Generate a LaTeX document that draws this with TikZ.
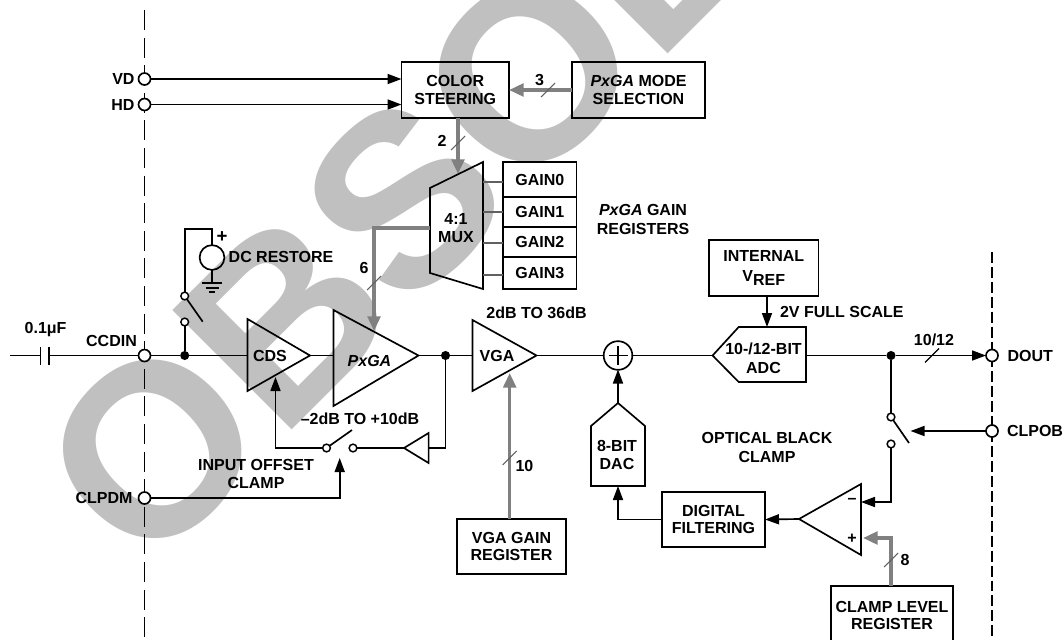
\documentclass[tikz,border=0pt]{standalone}
\usepackage{fontspec}
\setmainfont{Liberation Sans}
\usetikzlibrary{arrows.meta}
\definecolor{wmark}{HTML}{C0C0C0}
\definecolor{busgray}{HTML}{808080}
\definecolor{slashgray}{HTML}{606060}
\tikzset{
  wire/.style={line width=1.25pt,line join=miter},
  sig/.style={wire,-{Triangle[length=10.5pt,width=7.5pt]}},
  bus/.style={line width=2.6pt,color=busgray,-{Triangle[length=11pt,width=9.5pt]}},
  thinw/.style={line width=0.9pt,color=slashgray},
  slash/.style={line width=0.8pt,color=slashgray},
  bslash/.style={line width=0.9pt,color=black},
  dashL/.style={line width=1.25pt,dash pattern=on 15pt off 5.7pt},
  dashR/.style={line width=1.25pt,dash pattern=on 8.2pt off 3pt},
  blk/.style={draw,line width=1.25pt,fill=none},
  boxn/.style 2 args={draw,line width=1.25pt,rectangle,inner sep=0pt,outer sep=0pt,align=center,
     minimum width=#1*0.75pt,minimum height=#2*0.75pt},
  pin/.style={circle,draw,line width=1.25pt,fill=white,inner sep=0pt,outer sep=0pt,minimum size=9pt},
  contact/.style={circle,draw,line width=1.1pt,fill=white,inner sep=0pt,outer sep=0pt,minimum size=5.8pt},
  dot/.style={circle,fill=black,inner sep=0pt,outer sep=0pt,minimum size=6.8pt},
  txt/.style={inner sep=0pt,outer sep=0pt,align=center},
  every node/.style={font=\fontsize{12}{13.2}\selectfont\bfseries},
}
\begin{document}
\begin{tikzpicture}[x=0.75pt,y=-0.75pt]
\useasboundingbox (0,0) rectangle (1063,639);
\clip (0,0) rectangle (1063,639);
% watermark
\node[txt,anchor=base west,rotate=45,text=wmark,font=\fontsize{184}{184}\selectfont\bfseries] (wm) at (145.5,576.4) {OBSOLETE};
% boundary dashed lines
\coordinate (ltop) at (144.5,10); \coordinate (lbot) at (144.5,639);
\coordinate (rtop) at (992,252); \coordinate (rbot) at (992,639);
\draw[dashL] (ltop) -- (lbot);
\draw[dashR] (rtop) -- (rbot);
% boxes
\node[boxn={107.5}{56}] (cs) at (455.25,90) {COLOR\\STEERING};
\node[boxn={133}{56}] (mode) at (638.5,90) {\textit{PxGA} MODE\\SELECTION};
\node[boxn={73.5}{35}] (g0) at (539.75,179.5) {\raisebox{-2.5pt}{GAIN0}};
\node[boxn={73.5}{30}] (g1) at (539.75,212) {GAIN1};
\node[boxn={73.5}{30}] (g2) at (539.75,242) {GAIN2};
\node[boxn={73.5}{32}] (g3) at (539.75,273) {GAIN3};
\node[boxn={109.5}{56}] (vref) at (763.75,268) {INTERNAL\\[2pt]V\raisebox{-2.5pt}{REF}};
\node[boxn={109}{55}] (vgagain) at (511.5,546.5) {VGA GAIN\\REGISTER};
\node[boxn={103}{55}] (filt) at (713.5,519.5) {DIGITAL\\FILTERING};
\node[boxn={122}{59}] (clamp) at (892,615.5) {CLAMP LEVEL\\REGISTER};
% polygon blocks
\draw[blk] (430,188) coordinate (muxa) -- (483,162) coordinate (muxb) -- (483,289) coordinate (muxc) -- (430,273) coordinate (muxd) -- cycle;
\node[txt] (muxt) at (456,228) {4:1\\MUX};
\draw[blk] (247.5,319) coordinate (cdsa) -- (310,355.5) coordinate (cdso) -- (247.5,391) -- cycle;
\node[txt] (cdst) at (270,355.5) {CDS};
\draw[blk] (333.5,310) -- (418.5,355.5) coordinate (pxo) -- (333.5,406) -- cycle;
\node[txt,font=\fontsize{12}{13.2}\selectfont\bfseries\itshape] (pxt) at (369.5,361) {PxGA};
\draw[blk] (472.5,320) -- (536.5,355.5) coordinate (vgao) -- (472.5,391) -- cycle;
\node[txt] (vgat) at (497,355.5) {VGA};
\draw[blk] (428.6,433) -- (404,448) coordinate (bufo) -- (428.6,463) -- cycle;
\draw[blk] (712.6,355.5) coordinate (adci) -- (738.7,327) -- (806,327) -- (806,382) -- (738.7,382) -- cycle;
\node[txt] (adct) at (763.5,358) {10-/12-BIT\\[1pt]ADC};
\draw[blk] (591,486) -- (645,486) -- (645,426) -- (618,403) coordinate (daco) -- (591,426) -- cycle;
\node[txt] (dact) at (617,455) {8-BIT\\[1pt]DAC};
\draw[blk] (861,484) -- (799,519) coordinate (cmpo) -- (861,555) -- cycle;
\node[circle,draw,line width=1.25pt,inner sep=0pt,outer sep=0pt,minimum size=21.5pt] (sum) at (618,355.5) {};
\draw[wire] (sum.center) +(-9.5,0) -- +(9.5,0);
\draw[wire] (sum.center) +(0,-9.5) -- +(0,9.5);
% pins
\node[pin] (vd) at (144.5,79) {};
\node[pin] (hd) at (144.5,104.5) {};
\node[pin] (ccdin) at (144.5,355.5) {};
\node[pin] (clpdm) at (144.5,498) {};
\node[pin] (dout) at (992,355.5) {};
\node[pin] (clpob) at (992,431) {};
% input wires
\draw[sig] (vd) -- (vd -| cs.west);
\draw[sig] (hd) -- (hd -| cs.west);
\draw[bus] (mode.west) -- (cs.east);
\coordinate (csout) at (458,118); \coordinate (muxin) at (458,174);
\draw[bus] (csout) -- (muxin);
\foreach \a/\b in {g0/182,g1/212,g2/243,g3/275}{
  \draw[thinw] (483,\b) -- (\a.west |- 0,\b);
}
% 6-bit bus
\coordinate (mux6) at (430,228); \coordinate (px6c) at (374,228); \coordinate (px6) at (374,331);
\draw[bus] (mux6) -- (px6c) -- (px6);
% input chain
\coordinate (cin) at (10,355.5);
\coordinate (capa) at (40.5,355.5); \coordinate (capb) at (49,355.5);
\draw[wire] (cin) -- (capa);
\draw[wire] (40.5,347) -- (40.5,365);
\draw[wire] (49,347) -- (49,365);
\draw[wire] (capb) -- (ccdin);
\coordinate (cdsin) at (247.5,355.5);
\node[dot] (jdc) at (184.7,355.5) {};
\draw[wire] (ccdin) -- (jdc) -- (cdsin);
% DC restore
\node[circle,draw,line width=1.25pt,inner sep=0pt,outer sep=0pt,minimum size=18.6pt] (dcs) at (212,257.5) {};
\node[contact] (sw1a) at (184.7,296) {};
\node[contact] (sw1b) at (184.7,322) {};
\coordinate (sw1e) at (202.7,321.7);
\coordinate (dctop) at (212,229); \coordinate (dcl) at (184.7,229);
\draw[wire] (dcs.north) -- (dctop) -- (dcl) -- (sw1a);
\draw[wire] (sw1b) -- (jdc);
\draw[wire] (sw1a) -- (sw1e);
\coordinate (gnd) at (212,283);
\draw[wire] (dcs.south) -- (gnd);
\draw[wire] (202,283) -- (222,283);
\draw[wire] (205.5,288) -- (218.5,288);
\draw[wire] (209,292) -- (215,292);
% chain
\coordinate (pxin) at (333.5,355.5);
\draw[wire] (cdso) -- (pxin);
\node[dot] (jfb) at (445.5,355.5) {};
\coordinate (vgain) at (472.5,355.5);
\draw[wire] (pxo) -- (jfb) -- (vgain);
\draw[wire] (vgao) -- (sum.west);
\draw[wire] (sum.east) -- (adci);
\coordinate (adco) at (806,355.5);
\node[dot] (jout) at (891,355.5) {};
\draw[wire] (adco) -- (jout);
\draw[sig] (jout) -- (dout);
% vref
\coordinate (vrefo) at (767,296); \coordinate (adcv) at (767,327);
\draw[sig] (vrefo) -- (adcv);
% feedback / input offset clamp
\coordinate (fb) at (445.5,448); \coordinate (bufi) at (428.6,448);
\draw[wire] (jfb) -- (fb) -- (bufi);
\node[contact] (sw2r) at (353,448) {};
\node[contact] (sw2l) at (326.5,448) {};
\coordinate (sw2e) at (352,430);
\draw[wire] (bufo) -- (sw2r);
\draw[wire] (sw2l) -- (sw2e);
\coordinate (fbc) at (275.5,448); \coordinate (cdsfb) at (275.5,377);
\draw[sig] (sw2l) -- (fbc) -- (cdsfb);
\coordinate (cl1) at (339.7,498); \coordinate (cl2) at (339.7,458);
\draw[sig] (clpdm) -- (cl1) -- (cl2);
% VGA gain
\coordinate (vgb) at (509.7,519); \coordinate (vgt) at (509.7,373);
\draw[bus] (vgb) -- (vgt);
% DAC
\coordinate (sumb) at (618,369.5);
\draw[sig] (daco) -- (sumb);
\coordinate (fc) at (618,519.5); \coordinate (dacb) at (618,486);
\draw[sig] (filt.west) -- (fc) -- (dacb);
\draw[sig] (cmpo) -- (filt.east);
% black clamp
\node[contact] (sw3a) at (891,417) {};
\node[contact] (sw3b) at (891,444) {};
\coordinate (sw3e) at (909,443);
\draw[wire] (jout) -- (sw3a);
\draw[wire] (sw3a) -- (sw3e);
\coordinate (cmc) at (891,502); \coordinate (cmm) at (861,502);
\draw[sig] (sw3b) -- (cmc) -- (cmm);
\coordinate (obt) at (910.5,431);
\draw[sig] (clpob) -- (obt);
\coordinate (clt) at (891,586); \coordinate (clc) at (891,538); \coordinate (clp) at (863,538);
\draw[bus] (clt) -- (clc) -- (clp);
% slashes
\draw[slash] (548,90) +(-7,7) -- +(7,-7);
\draw[slash] (458,143) +(-7,7) -- +(7,-7);
\draw[slash] (374,283) +(-7,7) -- +(7,-7);
\draw[slash] (509.7,458) +(-7,7) -- +(7,-7);
\draw[slash] (891,560) +(-7,7) -- +(7,-7);
\draw[bslash] (932,355.5) +(-7,7) -- +(7,-7);
% labels
\node[txt,anchor=east] (lvd) at (134.5,79) {VD};
\node[txt,anchor=east] (lhd) at (134.5,104.5) {HD};
\node[txt] (l3) at (539.5,80) {3};
\node[txt] (l2) at (442,141) {2};
\node[txt] (l6) at (364,268) {6};
\node[txt,anchor=west] (l10) at (515.5,466) {10};
\node[txt] (l8) at (905,560) {8};
\node[txt] (l1012) at (934,340) {10/12};
\node[txt] (ldc) at (281,257) {DC RESTORE};
\node[txt,font=\fontsize{14}{14}\selectfont\bfseries] (lplus) at (222,237) {+};
\node[txt] (lcap) at (45.6,330) {0.1μF};
\node[txt] (lccd) at (111.5,341) {CCDIN};
\node[txt] (lclp) at (104,498) {CLPDM};
\node[txt] (l2db) at (360,419) {–2dB TO +10dB};
\node[txt] (lio) at (256,474) {INPUT OFFSET\\[1pt]CLAMP};
\node[txt] (l36) at (536.5,313) {2dB TO 36dB};
\node[txt] (lgr) at (643,219.5) {\textit{PxGA} GAIN\\[1pt]REGISTERS};
\node[txt,anchor=west] (l2v) at (780,312) {2V FULL SCALE};
\node[txt,anchor=west] (ldout) at (1007.5,355.5) {DOUT};
\node[txt,anchor=west] (lob) at (1007,431) {CLPOB};
\node[txt] (lobc) at (767,447.5) {OPTICAL BLACK\\[1pt]CLAMP};
\node[txt] (lmin) at (852,500.5) {–};
\node[txt] (lpl) at (852,538.5) {+};
\end{tikzpicture}
\end{document}
